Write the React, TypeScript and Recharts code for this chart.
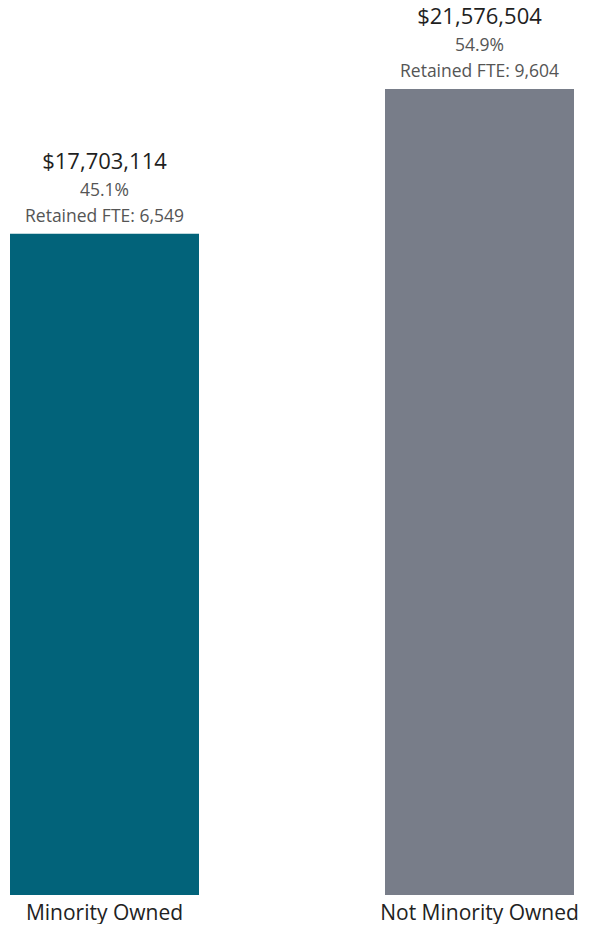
import { Bar, BarChart, Cell, LabelList, XAxis, YAxis } from "recharts";

const categories = ["Minority Owned", "Not Minority Owned"];
const amounts = [17703114, 21576504];
const shares = ["45.1%", "54.9%"];
const retainedFte = [6549, 9604];
const barColors = ["#02637A", "#787D89"];

const FONT = "'Open Sans', Lato, sans-serif";

const data = categories.map((name, i) => ({
  name,
  amount: amounts[i],
  share: shares[i],
  fte: retainedFte[i],
}));

function BarLabel(props: any) {
  const { x, y, width, index } = props;
  const cx = x + width / 2;
  const d = data[index];
  return (
    <g>
      <text x={cx} y={y - 65} textAnchor="middle" fontSize={22} fill="#1f1f1f">
        ${d.amount.toLocaleString("en-US")}
      </text>
      <text x={cx} y={y - 38} textAnchor="middle" fontSize={17.5} fill="#555">
        {d.share}
      </text>
      <text x={cx} y={y - 12} textAnchor="middle" fontSize={17.5} fill="#555">
        Retained FTE: {d.fte.toLocaleString("en-US")}
      </text>
    </g>
  );
}

export default function App() {
  return (
    <div
      style={{
        margin: -8,
        width: 590,
        height: 932,
        overflow: "hidden",
        position: "relative",
        background: "#fff",
      }}
    >
      <div style={{ position: "absolute", left: -83, top: 0 }}>
        <BarChart
          width={750}
          height={932}
          data={data}
          margin={{ top: 89, right: 0, bottom: 0, left: 0 }}
          barCategoryGap={0}
          style={{ fontFamily: FONT }}
        >
          <XAxis
            dataKey="name"
            axisLine={false}
            tickLine={false}
            height={37}
            interval={0}
            tick={{ fontSize: 21, fill: "#222", dy: 2 }}
          />
          <YAxis hide domain={[0, "dataMax"]} />
          <Bar dataKey="amount" barSize={189} isAnimationActive={false}>
            {data.map((d, i) => (
              <Cell key={d.name} fill={barColors[i]} />
            ))}
            <LabelList dataKey="amount" content={<BarLabel />} />
          </Bar>
        </BarChart>
      </div>
    </div>
  );
}
